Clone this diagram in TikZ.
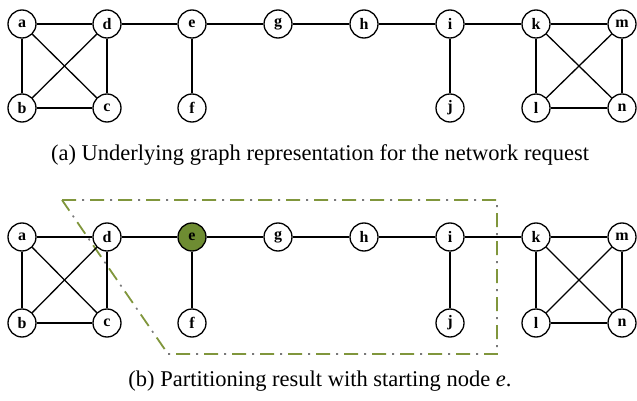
\documentclass[tikz,border=0pt]{standalone}
\usepackage{fontspec}
\setmainfont{Liberation Serif}
\definecolor{partgreen}{RGB}{128,150,60}
\definecolor{partgray}{RGB}{120,120,120}
\definecolor{startfill}{RGB}{110,140,50}
\tikzset{
  vert/.style={circle,draw,fill=white,line width=1.3pt,minimum size=28pt,inner sep=0pt,
    font=\fontsize{16}{16}\selectfont\bfseries},
  caption/.style={font=\fontsize{22.5}{26}\selectfont},
  partdash/.style={draw=partgreen,line width=1.8pt,dash pattern=on 14pt off 14pt},
  partdot/.style={draw=partgray,line width=1.6pt,dash pattern=on 2pt off 26pt,dash phase=-20pt}
}

\begin{document}
\begin{tikzpicture}[x=1pt,y=-1pt,line width=1.3pt]
        \useasboundingbox (0,0) rectangle (637,401);

        % (a) underlying graph
        \node[vert](a1) at (22, 24) {a};
        \node[vert](d1) at (107, 24) {d};
        \node[vert](e1) at (192, 24) {e};
        \node[vert](g1) at (278, 24) {g};
        \node[vert](h1) at (364, 24) {h};
        \node[vert](i1) at (450, 24) {i};
        \node[vert](k1) at (536, 24) {k};
        \node[vert](m1) at (622, 24) {m};
        \node[vert](b1) at (22, 108) {b};
        \node[vert](c1) at (107, 108) {c};
        \node[vert](f1) at (192, 108) {f};
        \node[vert](j1) at (450, 108) {j};
        \node[vert](l1) at (536, 108) {l};
        \node[vert](n1) at (622, 108) {n};

        \draw (a1) edge (d1) (a1) edge (b1) (a1) edge (c1) (d1) edge (b1)
              (d1) edge (c1) (b1) edge (c1) (d1) edge (e1) (e1) edge (f1)
              (e1) edge (g1) (g1) edge (h1) (h1) edge (i1) (i1) edge (j1)
              (i1) edge (k1) (k1) edge (m1) (k1) edge (l1) (k1) edge (n1)
              (m1) edge (l1) (m1) edge (n1) (l1) edge (n1);

        \node[caption](capa) at (320, 155) {(a) Underlying graph representation for the network request};

        % (b) partition from e
        \draw[partdash] (62,200) -- (497,200) -- (497,354) -- (168,354) -- cycle;
        \draw[partdot] (62,200) -- (497,200) -- (497,354) -- (168,354) -- cycle;

        \node[vert](a2) at (22, 237) {a};
        \node[vert](d2) at (107, 237) {d};
        \node[vert,fill=startfill](e2) at (192, 237) {e};
        \node[vert](g2) at (278, 237) {g};
        \node[vert](h2) at (364, 237) {h};
        \node[vert](i2) at (450, 237) {i};
        \node[vert](k2) at (536, 237) {k};
        \node[vert](m2) at (622, 237) {m};
        \node[vert](b2) at (22, 323) {b};
        \node[vert](c2) at (107, 323) {c};
        \node[vert](f2) at (192, 323) {f};
        \node[vert](j2) at (450, 323) {j};
        \node[vert](l2) at (536, 323) {l};
        \node[vert](n2) at (622, 323) {n};

        \draw (a2) edge (d2) (a2) edge (b2) (a2) edge (c2) (d2) edge (b2)
              (d2) edge (c2) (b2) edge (c2) (d2) edge (e2) (e2) edge (f2)
              (e2) edge (g2) (g2) edge (h2) (h2) edge (i2) (i2) edge (j2)
              (i2) edge (k2) (k2) edge (m2) (k2) edge (l2) (k2) edge (n2)
              (m2) edge (l2) (m2) edge (n2) (l2) edge (n2);

        \node[caption](capb) at (320, 381) {(b) Partitioning result with starting node \textit{e}.};
\end{tikzpicture}
\end{document}
